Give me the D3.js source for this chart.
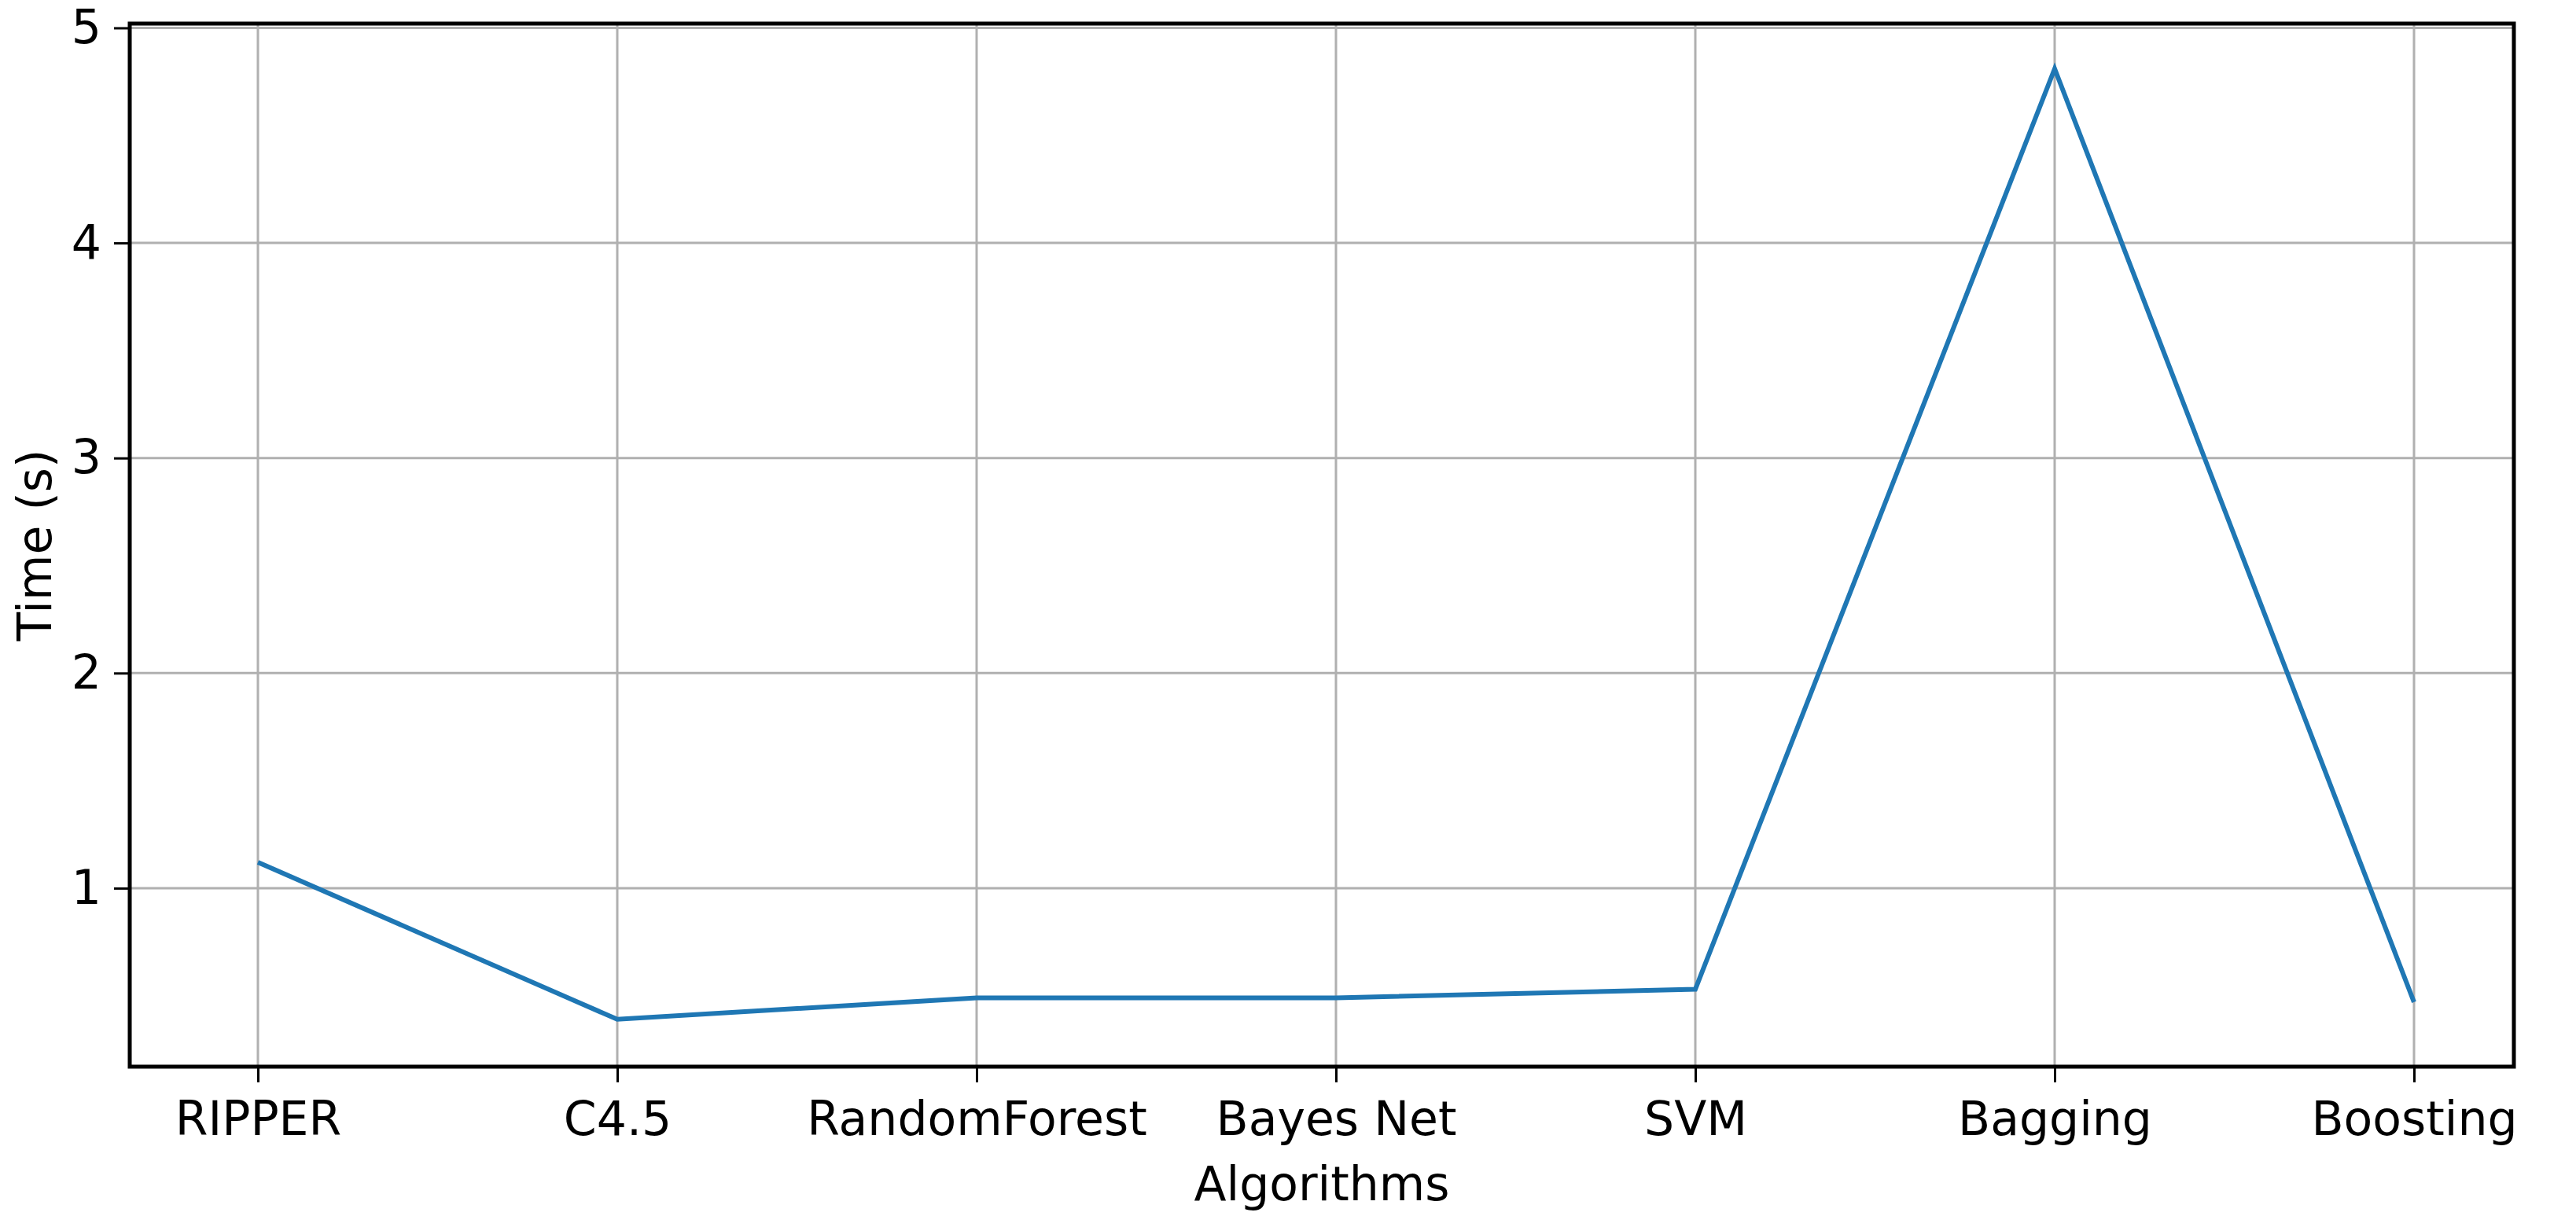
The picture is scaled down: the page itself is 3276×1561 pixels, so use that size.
<!DOCTYPE html>
<meta charset="utf-8">
<style>
body { margin: 0; background: #fff; }
text { font-family: "DejaVu Sans", sans-serif; fill: #000; }
.grid line { stroke: #b0b0b0; stroke-width: 3px; }
.line { fill: none; stroke: #1f77b4; stroke-width: 6px; }
</style>
<body>
<div id="container"></div>
<script src="https://d3js.org/d3.v7.min.js"></script>
<script>

var algorithms = ["RIPPER", "C4.5", "RandomForest", "Bayes Net", "SVM", "Bagging", "Boosting"];
var times = [1.12, 0.39, 0.49, 0.49, 0.53, 4.81, 0.47];
var yTicks = [1, 2, 3, 4, 5];

var W = 3276, H = 1561;
var margin = {top: 30, right: 79, bottom: 204, left: 165},
    width = W - margin.left - margin.right,
    height = H - margin.top - margin.bottom;

var x = d3.scalePoint().domain(algorithms).range([163, 163 + 6 * 457]);
var y = d3.scaleLinear().domain([0.17, 5.02]).range([height, 0]);

var svg = d3.select("#container").append("svg")
    .attr("width", W).attr("height", H)
  .append("g")
    .attr("transform", "translate(" + margin.left + "," + margin.top + ")");

// grid
var grid = svg.append("g").attr("class", "grid");
grid.selectAll(".gx").data(algorithms).enter().append("line")
    .attr("x1", d => x(d)).attr("x2", d => x(d))
    .attr("y1", 0).attr("y2", height);
grid.selectAll(".gy").data(yTicks).enter().append("line")
    .attr("x1", 0).attr("x2", width)
    .attr("y1", d => y(d)).attr("y2", d => y(d));

// line
var valueline = d3.line()
    .x(function(d, i) { return x(algorithms[i]); })
    .y(function(d) { return y(d); });
svg.append("path").attr("class", "line").attr("d", valueline(times));

// axes
var xAxis = d3.axisBottom(x).tickSize(20).tickPadding(24).tickSizeOuter(0);
var yAxis = d3.axisLeft(y).tickValues(yTicks).tickFormat(d3.format("d"))
    .tickSize(20).tickPadding(16).tickSizeOuter(0);

var gx = svg.append("g").attr("transform", "translate(0," + height + ")").call(xAxis);
var gy = svg.append("g").call(yAxis);
[gx, gy].forEach(function(g) {
  g.select(".domain").remove();
  g.selectAll(".tick line").attr("stroke", "#000").attr("stroke-width", 3);
  g.selectAll("text").style("font-size", "60px").style("font-family", "DejaVu Sans, sans-serif");
});

// frame
svg.append("rect").attr("width", width).attr("height", height)
    .attr("fill", "none").attr("stroke", "#000").attr("stroke-width", 5);

svg.append("text").attr("x", width / 2).attr("y", height + 170)
    .attr("text-anchor", "middle").style("font-size", "60px").text("Algorithms");
svg.append("text").attr("transform", "translate(-100," + (height / 2) + ") rotate(-90)")
    .attr("text-anchor", "middle").style("font-size", "60px").text("Time (s)");

</script>
</body>
